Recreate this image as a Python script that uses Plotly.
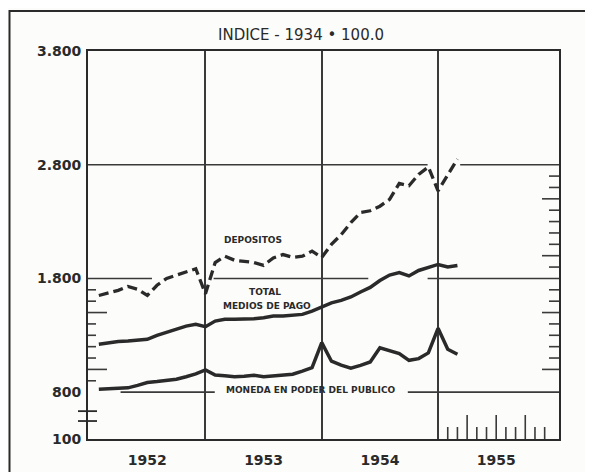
import plotly.graph_objects as go

# ---------------- data (monthly, Jan 1952 - Feb 1955; index 1934 = 100) ----------------
months = [f"{y}-{m:02d}" for y in (1952, 1953, 1954) for m in range(1, 13)] + ["1955-01", "1955-02"]

depositos = [
    1650, 1675, 1695, 1730, 1705, 1650, 1740, 1800, 1830, 1860, 1885, 1665,   # 1952
    1940, 1995, 1960, 1950, 1940, 1915, 1980, 2010, 1985, 1995, 2040, 1985,   # 1953
    2100, 2185, 2290, 2380, 2395, 2435, 2495, 2635, 2615, 2715, 2780, 2570,   # 1954
    2710, 2850,                                                               # 1955
]
total_medios = [
    1221, 1236, 1245, 1250, 1256, 1265, 1300, 1329, 1352, 1381, 1396, 1376,
    1425, 1440, 1440, 1440, 1446, 1455, 1469, 1469, 1475, 1484, 1513, 1545,
    1585, 1607, 1637, 1681, 1721, 1782, 1830, 1852, 1822, 1870, 1896, 1923,
    1900, 1914,
]
moneda = [
    826, 830, 833, 838, 860, 885, 893, 903, 914, 935, 960, 996,
    950, 945, 935, 940, 948, 935, 943, 945, 958, 985, 1015, 1236,
    1072, 1037, 1010, 1035, 1065, 1190, 1165, 1140, 1080, 1095, 1145, 1361,
    1177, 1133,
]

year_labels = ["1952", "1953", "1954", "1955"]
y_tick_labels = ["100", "800", "1.800", "2.800", "3.800"]
Y_BREAK = 388          # axis position where the broken scale shows "100"
y_tick_values = [Y_BREAK, 800, 1800, 2800, 3800]

title_text = "INDICE - 1934 \u2022 100.0"

# month-end positions in fractional years
x_pos = [int(s[:4]) + int(s[5:]) / 12 for s in months]

INK = "#2a2a2a"
GRID = "#3a3a3a"
FONT = "DejaVu Sans"

fig = go.Figure()

fig.add_trace(go.Scatter(x=x_pos, y=depositos, mode="lines", name="DEPOSITOS",
                         line=dict(color=INK, width=3.3, dash="10px,5px"), hoverinfo="skip"))
fig.add_trace(go.Scatter(x=x_pos, y=total_medios, mode="lines", name="TOTAL MEDIOS DE PAGO",
                         line=dict(color=INK, width=3.5), hoverinfo="skip"))
fig.add_trace(go.Scatter(x=x_pos, y=moneda, mode="lines", name="MONEDA EN PODER DEL PUBLICO",
                         line=dict(color=INK, width=3.5), hoverinfo="skip"))

shapes = []
# partial horizontal grid lines (broken around labels and curves)
h_segments = {
    2800: [(1951.99, 1954.91), (1955.19, 1956.04)],
    1800: [(1951.99, 1952.54), (1953.07, 1954.40), (1954.91, 1956.04)],
    800: [(1952.27, 1953.08), (1954.74, 1956.04)],
}
for yv, segs in h_segments.items():
    for a, b in segs:
        shapes.append(dict(type="line", xref="x", yref="y", x0=a, x1=b, y0=yv, y1=yv,
                           line=dict(color=GRID, width=1.6), layer="below"))

# left-side minor ticks (900..1700)
for v in range(900, 1800, 100):
    L = 19 if v in (1000, 1500) else 8
    shapes.append(dict(type="line", xref="x domain", yref="y", x0=0, x1=L / 471, y0=v, y1=v,
                       line=dict(color=GRID, width=1.6)))
# right-side minor ticks (1000..2700)
for v in range(1000, 2800, 100):
    if v == 1800:
        continue
    L = 17 if v in (1000, 1500, 2000, 2500) else 10
    shapes.append(dict(type="line", xref="x domain", yref="y", x0=1 - L / 471, x1=1, y0=v, y1=v,
                       line=dict(color=GRID, width=1.6)))
# axis break marks
for v in (546, 633):
    shapes.append(dict(type="line", xref="x domain", yref="y", x0=-10 / 471, x1=9 / 471, y0=v, y1=v,
                       line=dict(color=INK, width=1.8)))
# monthly ticks along the bottom of 1955
for m in range(1, 12):
    L = 24 if m in (3, 6, 9) else 12
    shapes.append(dict(type="line", xref="x", yref="y domain", x0=1955 + m / 12, x1=1955 + m / 12,
                       y0=0, y1=L / 388, line=dict(color=GRID, width=1.6)))
# outer frame of the figure
shapes.append(dict(type="rect", xref="paper", yref="paper", x0=-78.5 / 471, x1=1.2, y0=-0.2, y1=(439 - 11) / 388,
                   line=dict(color=INK, width=2), fillcolor="rgba(0,0,0,0)"))

annotations = [
    dict(text=title_text, xref="paper", yref="paper", x=(301 - 88) / 471, y=(439 - 35) / 388,
         showarrow=False, font=dict(family=FONT, size=15, color=INK), xanchor="center", yanchor="middle"),
    dict(text="<b>DEPOSITOS</b>", xref="x", yref="y", x=1953.41, y=2142, showarrow=False,
         font=dict(family=FONT, size=9, color=INK), xanchor="center", yanchor="middle"),
    dict(text="<b>TOTAL</b>", xref="x", yref="y", x=1953.51, y=1677, showarrow=False,
         font=dict(family=FONT, size=9, color=INK), xanchor="center", yanchor="middle"),
    dict(text="<b>MEDIOS DE PAGO</b>", xref="x", yref="y", x=1953.53, y=1556, showarrow=False,
         font=dict(family=FONT, size=9, color=INK), xanchor="center", yanchor="middle"),
    dict(text="<b>MONEDA EN PODER DEL PUBLICO</b>", xref="x", yref="y", x=1953.91, y=820, showarrow=False,
         font=dict(family=FONT, size=9, color=INK), xanchor="center", yanchor="middle"),
]

# the page body adds an 8 px offset, so margins are reduced by 8 on the left/top
fig.update_layout(
    width=593, height=472,
    margin=dict(l=80, r=42, t=43, b=41),
    paper_bgcolor="#fcfcfa", plot_bgcolor="#fcfcfa",
    showlegend=False,
    shapes=shapes, annotations=annotations,
    xaxis=dict(range=[1951.99, 1956.04], tickvals=[1952.5, 1953.5, 1954.5, 1955.5], ticktext=year_labels,
               showgrid=False, zeroline=False, showline=True, mirror=True, linecolor=INK, linewidth=2,
               ticks="outside", ticklen=7, tickcolor="rgba(0,0,0,0)", automargin=False,
               tickfont=dict(family=FONT, size=14, color=INK, weight="bold"),
               minor=dict(tickvals=[1953, 1954, 1955], showgrid=True, gridcolor=GRID, gridwidth=1.6, ticks="")),
    yaxis=dict(range=[Y_BREAK, 3800], tickvals=y_tick_values, ticktext=y_tick_labels,
               showgrid=False, zeroline=False, showline=True, mirror=True, linecolor=INK, linewidth=2,
               ticks="outside", ticklen=2, tickcolor="rgba(0,0,0,0)", automargin=False,
               tickfont=dict(family=FONT, size=14, color=INK, weight="bold")),
)

fig.write_html("out.html")
